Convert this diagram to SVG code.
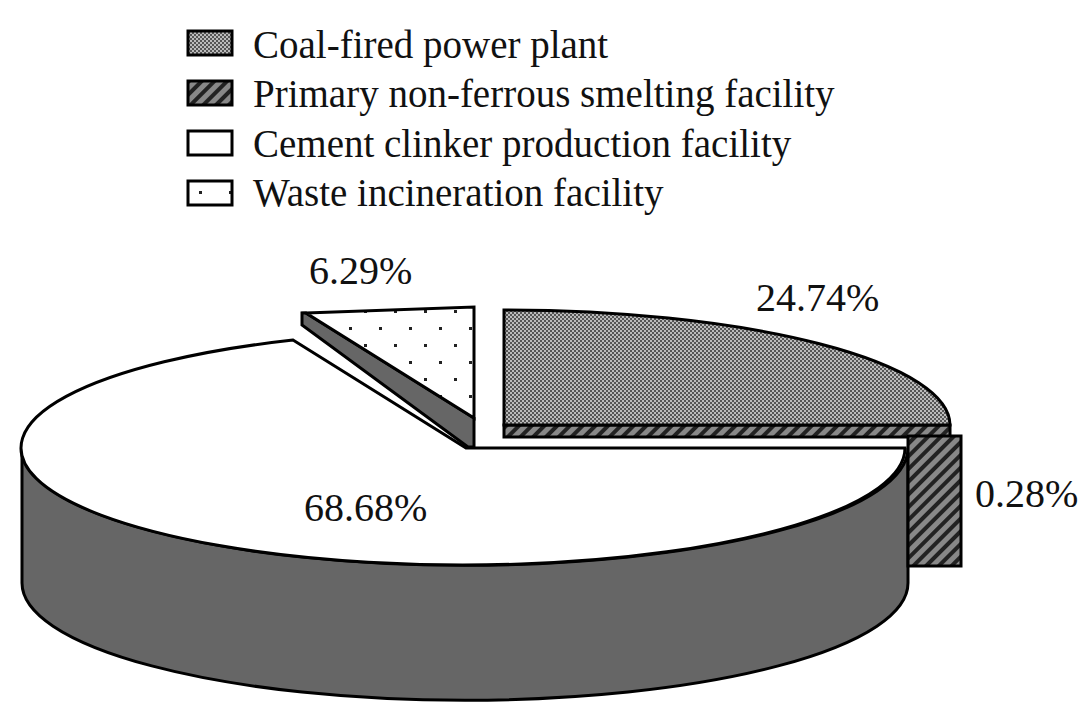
<svg xmlns="http://www.w3.org/2000/svg" width="1092" height="719" viewBox="0 0 1092 719">
<style>
text{font-family:"Liberation Serif","Times New Roman",serif;fill:#111}
.lg{font-size:39px}
.pc{font-size:40px}
.o{stroke:#000;stroke-width:3}
</style>
<defs>
<pattern id="chk" width="4" height="4" patternUnits="userSpaceOnUse"><rect width="4" height="4" fill="#bbb"/><rect width="2" height="2" fill="#555"/><rect x="2" y="2" width="2" height="2" fill="#555"/></pattern>
<pattern id="hat" width="9" height="9" patternUnits="userSpaceOnUse" patternTransform="rotate(45)"><rect width="9" height="9" fill="#888"/><rect width="4" height="9" fill="#222"/></pattern>
<pattern id="dot" width="30" height="34" patternUnits="userSpaceOnUse"><rect width="30" height="34" fill="#fff"/><rect x="4" y="4" width="3" height="3" fill="#222"/><rect x="19" y="21" width="3" height="3" fill="#222"/></pattern>
</defs>
<g id="legend">
<rect class="o" x="188" y="31" width="44" height="24" fill="url(#chk)"/>
<text class="lg" x="253" y="58">Coal-fired power plant</text>
<rect class="o" x="188" y="81" width="44" height="24" fill="url(#hat)"/>
<text class="lg" x="253" y="107">Primary non-ferrous smelting facility</text>
<rect class="o" x="188" y="131" width="44" height="24" fill="#fff"/>
<text class="lg" x="253" y="157">Cement clinker production facility</text>
<rect class="o" x="188" y="181" width="44" height="24" fill="url(#dot)"/>
<text class="lg" x="253" y="206">Waste incineration facility</text>
</g>
<g id="cement">
<path class="o" d="M22,448 A442,117 0 0 0 908,448 L908,583 A442,117 0 0 1 22,583 Z" fill="#666"/>
<path class="o" d="M466,448 L905,448 A442,117 0 1 1 293,340 Z" fill="#fff"/>
</g>
<g id="waste">
<path class="o" d="M302,313 L306,313 L474,418 L474,447 L468,447 L302,325 Z" fill="#666"/>
<path class="o" d="M306,313 L474,307 L474,418 Z" fill="url(#dot)"/>
</g>
<g id="coal">
<rect class="o" x="504" y="425" width="446" height="12" fill="url(#hat)"/>
<path class="o" d="M504,425 L504,310 A446,115 0 0 1 950,425 Z" fill="url(#chk)"/>
</g>
<g id="smelting">
<rect class="o" x="908" y="436" width="53" height="130" fill="url(#hat)"/>
</g>
<g id="labels">
<text class="pc" x="309" y="284">6.29%</text>
<text class="pc" x="756" y="311">24.74%</text>
<text class="pc" x="975" y="507">0.28%</text>
<text class="pc" x="304" y="521">68.68%</text>
</g>
</svg>
